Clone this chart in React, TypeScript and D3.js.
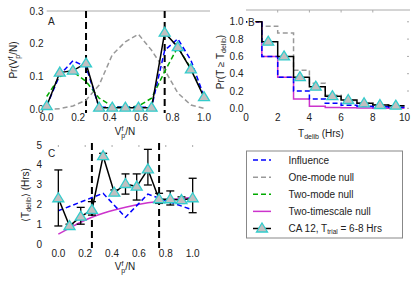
import React from 'react';
import * as d3 from 'd3';

// panel A: distribution of final vote fraction
const voteX = [0, 1 / 12, 2 / 12, 3 / 12, 4 / 12, 5 / 12, 6 / 12, 7 / 12, 8 / 12, 9 / 12, 10 / 12, 11 / 12, 1];
const aCA = [0.01, 0.112, 0.118, 0.14, 0.005, 0.005, 0.005, 0.005, 0.005, 0.234, 0.19, 0.122, 0.037];
const aInfluence = [0.01, 0.105, 0.148, 0.13, 0.006, 0.006, 0.006, 0.006, 0.006, 0.18, 0.215, 0.15, 0.04];
const aOneMode = [0.0, 0.002, 0.01, 0.028, 0.074, 0.166, 0.206, 0.229, 0.18, 0.12, 0.05, 0.013, 0.003];
const aTwoMode = [0.039, 0.1, 0.115, 0.085, 0.034, 0.01, 0.005, 0.01, 0.034, 0.115, 0.19, 0.125, 0.04];
const aTicksX = [0, 0.2, 0.4, 0.6, 0.8, 1.0];
const aTicksY = [0, 0.1, 0.2, 0.3];

// panel B: survival of deliberation time (bins of 1 hr)
const bEdges = [0, 1, 2, 3, 4, 5, 6, 7, 8, 9, 10];
const bCA = [1.0, 0.77, 0.6, 0.36, 0.25, 0.14, 0.096, 0.058, 0.038, 0.03];
const bInfluence = [1.0, 0.6, 0.36, 0.2, 0.107, 0.058, 0.035, 0.025, 0.018, 0.012];
const bOneMode = [1.0, 0.95, 0.87, 0.44, 0.29, 0.15, 0.09, 0.06, 0.04, 0.03];
const bTwoScale = [1.0, 0.6, 0.36, 0.107, 0.025, 0.01, 0.005, 0.003, 0.002, 0.001];
const bMarkX = [1.4, 2.4, 3.4, 4.4, 5.45, 6.45, 7.45, 8.45, 9.45];
const bMarkY = [0.77, 0.6, 0.36, 0.25, 0.14, 0.096, 0.058, 0.038, 0.03];
const bTicksX = [0, 2, 4, 6, 8, 10];
const bTicksY = [0, 0.2, 0.4, 0.6, 0.8, 1.0];

// panel C: mean deliberation time vs vote fraction
const cCA = [2.31, 0.91, 1.38, 1.72, 4.44, 2.59, 3.03, 2.9, 3.77, 2.26, 2.26, 2.22, 2.31];
const cErrLo = [0.91, 0.8, 1.0, 1.46, 4.3, 2.5, 2.52, 2.22, 2.98, 2.05, 1.97, 2.05, 1.58];
const cErrHi = [3.74, 1.0, 1.85, 2.14, 4.58, 2.73, 3.54, 3.54, 4.78, 2.56, 2.68, 2.38, 3.32];
const cInfX = [0, 1 / 3, 1 / 2, 2 / 3, 1];
const cInfluence = [1.68, 2.56, 1.35, 2.52, 1.72];
const cTwoScale = [0.5, 0.8, 1.1, 1.35, 1.55, 1.72, 1.86, 1.98, 2.08, 2.16, 2.23, 2.3, 2.36];
const cTicksX = [0, 0.2, 0.4, 0.6, 0.8, 1.0];
const cTicksY = [0, 1, 2, 3, 4, 5];

const cutoffs = [0.25, 0.75];

const FONT = "'Liberation Sans', Arial, sans-serif";
const BLUE = '#0000ff';
const GRAY = '#999999';
const GREEN = '#00aa00';
const MAGENTA = '#cc33cc';
const CYAN = '#33cccc';

const Tri = ({ x, y }: { x: number; y: number }) => (
  <path
    d={`M${x},${y - 5.5}L${x + 5.5},${y + 3.5}L${x - 5.5},${y + 3.5}Z`}
    fill="#c0c0c0"
    stroke={CYAN}
    strokeWidth={1.3}
  />
);

const VfpN = () => (
  <>
    <tspan>V</tspan>
    <tspan dy={-4} fontSize={7}>f</tspan>
    <tspan dx={-2} dy={7} fontSize={7}>p</tspan>
    <tspan dy={-3}>/N</tspan>
  </>
);

const stepPath = (x: d3.ScaleLinear<number, number>, y: d3.ScaleLinear<number, number>, vals: number[]) => {
  let d = '';
  vals.forEach((v, i) => {
    d += `${i === 0 ? 'M' : 'L'}${x(bEdges[i])},${y(v)}L${x(bEdges[i + 1])},${y(v)}`;
  });
  return d;
};

export default function App() {
  // panel A
  const ax = d3.scaleLinear().domain([0, 1]).range([46.7, 204]);
  const ay = d3.scaleLinear().domain([0, 0.3]).range([109.3, 11]);
  const aLine = (vals: number[]) =>
    d3.line<number>().x((_, i) => ax(voteX[i])).y(d => ay(d))(vals) || '';

  // panel B
  const bx = d3.scaleLinear().domain([0, 10]).range([246, 404.5]);
  const by = d3.scaleLinear().domain([0, 1.125]).range([108.3, 11]);

  // panel C
  const cx = d3.scaleLinear().domain([-0.1, 1.1]).range([44.9, 206.1]);
  const cy = d3.scaleLinear().domain([0, 5]).range([244, 145]);
  const cLine = (xs: number[], vals: number[]) =>
    d3.line<number>().x((_, i) => cx(xs[i])).y(d => cy(d))(vals) || '';
  const cSmooth = d3
    .line<number>()
    .curve(d3.curveMonotoneX)
    .x((_, i) => cx(voteX[i]))
    .y(d => cy(d))(cTwoScale) || '';

  const legendRows = [
    { label: 'Influence', color: BLUE, dash: '5,3' },
    { label: 'One-mode null', color: GRAY, dash: '5,3' },
    { label: 'Two-mode null', color: GREEN, dash: '5,3' },
    { label: 'Two-timescale null', color: MAGENTA, dash: '' },
  ];
  const legY = d3.scaleLinear().domain([0, 4]).range([160, 228.5]);

  return (
    <svg width={411} height={288} style={{ position: 'absolute', left: 0, top: 0 }} fontFamily={FONT}>
      <rect width={411} height={288} fill="#fff" />

      {/* ---------- panel A ---------- */}
      <line x1={ax(0)} x2={210} y1={11} y2={11} stroke="#aaa" />
      {aTicksY.map(t => (
        <text key={t} x={43.5} y={ay(t) + 3.5} fontSize={10} textAnchor="end" fill="#222">
          {t.toFixed(1)}
        </text>
      ))}
      {aTicksX.map(t => (
        <text key={t} x={ax(t)} y={121} fontSize={10} textAnchor="middle" fill="#222">
          {t.toFixed(1)}
        </text>
      ))}
      <text x={125} y={135} fontSize={10} textAnchor="middle" fill="#222">
        <VfpN />
      </text>
      <text transform="translate(17,60) rotate(-90)" fontSize={10} textAnchor="middle" fill="#222">
        <tspan>Pr(</tspan>
        <VfpN />
        <tspan>)</tspan>
      </text>
      <text x={48} y={25} fontSize={10} fill="#222">A</text>
      {cutoffs.map(c => (
        <line key={c} x1={ax(c)} x2={ax(c)} y1={11} y2={113} stroke="#000" strokeWidth={2} strokeDasharray="7,4" />
      ))}
      <path d={aLine(aOneMode)} fill="none" stroke={GRAY} strokeWidth={1.5} strokeDasharray="5,3" />
      <path d={aLine(aTwoMode)} fill="none" stroke={GREEN} strokeWidth={1.5} strokeDasharray="5,3" />
      <path d={aLine(aInfluence)} fill="none" stroke={BLUE} strokeWidth={1.5} strokeDasharray="5,3" />
      <path d={aLine(aCA)} fill="none" stroke="#000" strokeWidth={1.5} />
      {aCA.map((v, i) => (
        <Tri key={i} x={ax(voteX[i])} y={ay(v)} />
      ))}

      {/* ---------- panel B ---------- */}
      <line x1={bx(0)} x2={410} y1={10} y2={10} stroke="#aaa" />
      {bTicksX.slice(1, -1).map(t => (
        <line key={t} x1={bx(t)} x2={bx(t)} y1={10} y2={12.5} stroke="#aaa" />
      ))}
      {bTicksY.map(t => (
        <line key={t} x1={407} x2={409} y1={by(t)} y2={by(t)} stroke="#aaa" />
      ))}
      {bTicksY.map(t => (
        <text key={t} x={243.5} y={by(t) + 3.5} fontSize={10} textAnchor="end" fill="#222">
          {t.toFixed(1)}
        </text>
      ))}
      {bTicksX.map(t => (
        <text key={t} x={bx(t)} y={121} fontSize={10} textAnchor="middle" fill="#222">
          {t}
        </text>
      ))}
      <text x={321} y={137} fontSize={10} textAnchor="middle" fill="#222">
        <tspan>T</tspan>
        <tspan fontSize={7} dy={2}>delib</tspan>
        <tspan dy={-2}> (Hrs)</tspan>
      </text>
      <text transform="translate(224,62) rotate(-90)" fontSize={10} textAnchor="middle" fill="#222">
        <tspan>Pr(T ≥ T</tspan>
        <tspan fontSize={7} dy={2}>delib</tspan>
        <tspan dy={-2}>)</tspan>
      </text>
      <path d={stepPath(bx, by, bOneMode)} fill="none" stroke={GRAY} strokeWidth={1.5} strokeDasharray="5,3" />
      <path d={stepPath(bx, by, bTwoScale)} fill="none" stroke={MAGENTA} strokeWidth={1.5} />
      <path d={stepPath(bx, by, bInfluence)} fill="none" stroke={BLUE} strokeWidth={1.5} strokeDasharray="5,3" />
      <path d={stepPath(bx, by, bCA)} fill="none" stroke="#000" strokeWidth={1.5} />
      {bMarkX.map((x, i) => (
        <Tri key={i} x={bx(x)} y={by(bMarkY[i])} />
      ))}
      <text x={248} y={25.5} fontSize={10} fill="#222" stroke="#fff" strokeWidth={3} paintOrder="stroke">B</text>

      {/* ---------- panel C ---------- */}
      {cTicksX.map(t => (
        <line key={t} x1={cx(t)} x2={cx(t)} y1={145} y2={147} stroke="#aaa" />
      ))}
      {cTicksY.map(t => (
        <text key={t} x={42} y={cy(t) + 3.5} fontSize={10} textAnchor="end" fill="#222">
          {t}
        </text>
      ))}
      {cTicksX.map(t => (
        <text key={t} x={cx(t)} y={257} fontSize={10} textAnchor="middle" fill="#222">
          {t.toFixed(1)}
        </text>
      ))}
      <text x={125} y={270} fontSize={10} textAnchor="middle" fill="#222">
        <VfpN />
      </text>
      <text transform="translate(29,195) rotate(-90)" fontSize={10} textAnchor="middle" fill="#222">
        <tspan>⟨T</tspan>
        <tspan fontSize={7} dy={2}>delib</tspan>
        <tspan dy={-2}>⟩ (Hrs)</tspan>
      </text>
      <text x={48} y={157} fontSize={10} fill="#222">C</text>
      {cutoffs.map(c => (
        <line key={c} x1={cx(c)} x2={cx(c)} y1={143} y2={248} stroke="#000" strokeWidth={2} strokeDasharray="7,4" />
      ))}
      <path d={cSmooth} fill="none" stroke={MAGENTA} strokeWidth={1.5} />
      <path d={cLine(cInfX, cInfluence)} fill="none" stroke={BLUE} strokeWidth={1.5} strokeDasharray="5,3" />
      {cCA.map((_, i) => (
        <g key={i} stroke="#000" strokeWidth={1.3}>
          <line x1={cx(voteX[i])} x2={cx(voteX[i])} y1={cy(cErrLo[i])} y2={cy(cErrHi[i])} />
          <line x1={cx(voteX[i]) - 4} x2={cx(voteX[i]) + 4} y1={cy(cErrLo[i])} y2={cy(cErrLo[i])} />
          <line x1={cx(voteX[i]) - 4} x2={cx(voteX[i]) + 4} y1={cy(cErrHi[i])} y2={cy(cErrHi[i])} />
        </g>
      ))}
      <path d={cLine(voteX, cCA)} fill="none" stroke="#000" strokeWidth={1.5} />
      {cCA.map((v, i) => (
        <Tri key={i} x={cx(voteX[i])} y={cy(v)} />
      ))}

      {/* ---------- legend ---------- */}
      <rect x={246.5} y={151} width={156} height={87} fill="#fff" stroke="#888" />
      {legendRows.map((r, i) => (
        <g key={r.label}>
          <line x1={253} x2={271} y1={legY(i)} y2={legY(i)} stroke={r.color} strokeWidth={1.5} strokeDasharray={r.dash || undefined} />
          <text x={288.5} y={legY(i) + 3.5} fontSize={10} fill="#222">{r.label}</text>
        </g>
      ))}
      <line x1={253} x2={271} y1={legY(4)} y2={legY(4)} stroke="#000" strokeWidth={1.5} />
      <Tri x={262} y={legY(4)} />
      <text x={288.5} y={legY(4) + 3.5} fontSize={10} fill="#222">
        <tspan>CA 12, T</tspan>
        <tspan fontSize={6.5} dy={1.5}>trial</tspan>
        <tspan dy={-1.5}> = 6-8 Hrs</tspan>
      </text>
    </svg>
  );
}
